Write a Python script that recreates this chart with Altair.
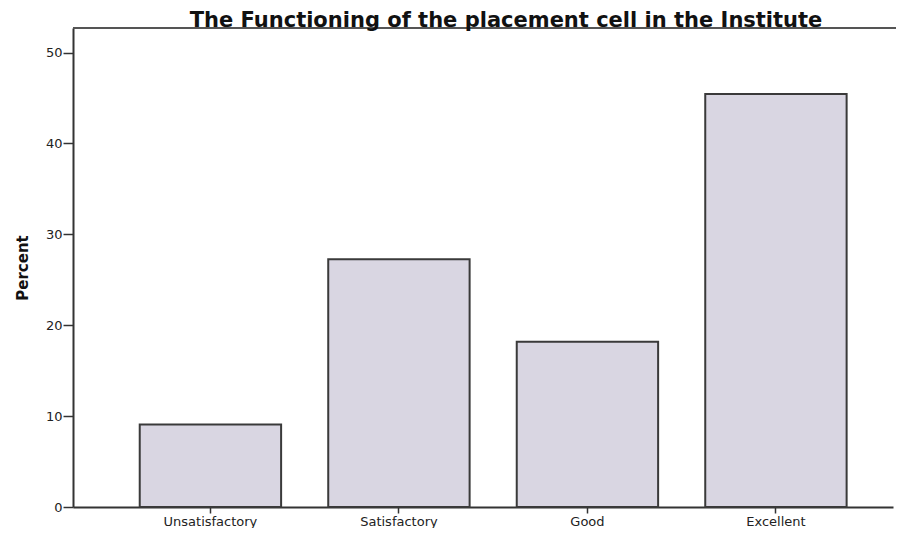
import altair as alt
import pandas as pd

categories = ["Unsatisfactory", "Satisfactory", "Good", "Excellent"]
percents = [9.09, 27.27, 18.18, 45.45]
y_ticks = [0, 10, 20, 30, 40, 50]

df = pd.DataFrame({"category": categories, "percent": percents})

W, H = 820, 479

bars = alt.Chart(df).mark_bar(
    fill="#d9d6e2", stroke="#3a3a3a", strokeWidth=2
).encode(
    x=alt.X("category:N", sort=categories, title=None,
            scale=alt.Scale(paddingInner=0.25, paddingOuter=0.30, align=0.59),
            axis=alt.Axis(labelAngle=0, labelFont="DejaVu Sans", labelFontSize=13,
                          labelColor="#222222", tickSize=6, tickWidth=1.5,
                          tickColor="#333333", domainColor="#333333", domainWidth=2,
                          labelPadding=2)),
    y=alt.Y("percent:Q", title="Percent",
            scale=alt.Scale(domain=[0, 52.7], nice=False),
            axis=alt.Axis(values=y_ticks, grid=False, labelFont="DejaVu Sans",
                          labelFontSize=13, labelColor="#222222", tickSize=10,
                          tickWidth=1.5, tickColor="#333333", domainColor="#333333",
                          domainWidth=2, labelPadding=1,
                          titleFont="DejaVu Sans", titleFontSize=15, titleFontWeight="bold",
                          titleColor="#111111", titlePadding=15)),
)

top_line = alt.Chart(df).mark_rule(color="#555555", strokeWidth=1.5).encode(
    x=alt.value(0), x2=alt.value(W + 20), y=alt.value(0)
)

chart = alt.layer(bars, top_line).properties(
    width=W, height=H,
    title=alt.TitleParams("The Functioning of the placement cell in the Institute",
                          font="DejaVu Sans", fontSize=21, fontWeight="bold",
                          color="#111111", anchor="middle", dx=23, offset=-4),
    autosize=alt.AutoSizeParams(type="none"),
    padding={"left": 65, "top": 20, "right": 3, "bottom": 21},
).configure_view(stroke=None)

chart.save("out.html", embed_options={"renderer": "svg", "actions": False})
